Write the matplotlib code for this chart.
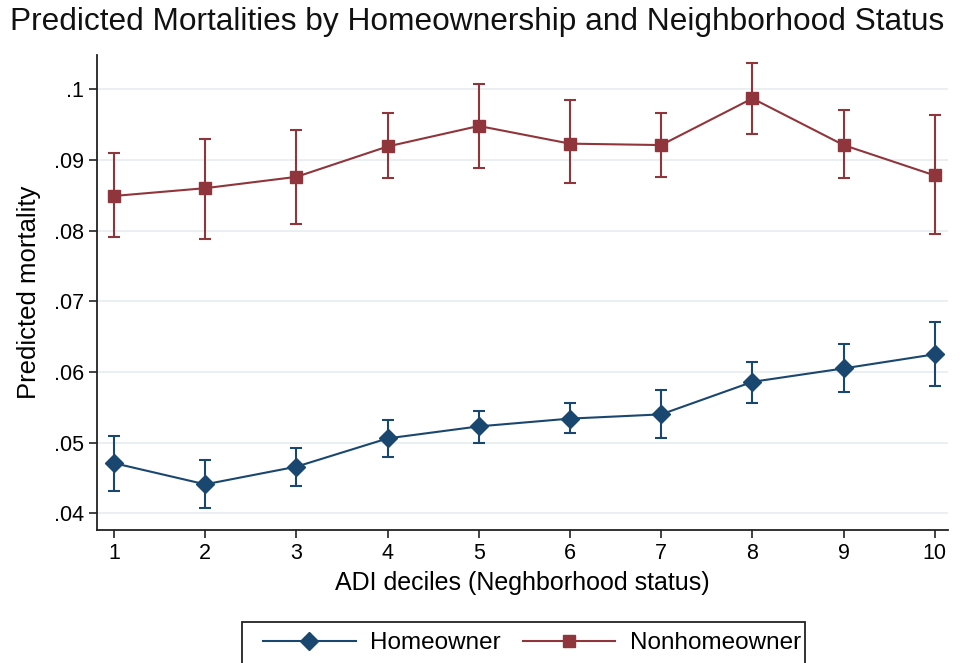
"""Predicted mortality by homeownership and ADI decile (Stata-style replica)."""
import matplotlib
matplotlib.use("Agg")
import matplotlib.pyplot as plt
from matplotlib.patches import Rectangle
from matplotlib.transforms import Bbox, TransformedBbox

plt.rcParams["font.family"] = ["Liberation Sans", "DejaVu Sans"]

# ── Data ───────────────────────────────────────────────────────────────
deciles = [1, 2, 3, 4, 5, 6, 7, 8, 9, 10]

home_mean = [0.0471, 0.0441, 0.0466, 0.0506, 0.0523, 0.0534, 0.0540, 0.0586, 0.0605, 0.0625]
home_lo = [0.0431, 0.0407, 0.0439, 0.0479, 0.0500, 0.0513, 0.0506, 0.0556, 0.0572, 0.0580]
home_hi = [0.0510, 0.0476, 0.0492, 0.0532, 0.0545, 0.0556, 0.0574, 0.0614, 0.0640, 0.0670]

nonhome_mean = [0.0849, 0.0860, 0.0876, 0.0919, 0.0948, 0.0923, 0.0921, 0.0987, 0.0921, 0.0878]
nonhome_lo = [0.0791, 0.0788, 0.0810, 0.0874, 0.0889, 0.0867, 0.0876, 0.0937, 0.0874, 0.0795]
nonhome_hi = [0.0910, 0.0929, 0.0942, 0.0966, 0.1008, 0.0985, 0.0966, 0.1037, 0.0971, 0.0963]

y_ticks = [0.04, 0.05, 0.06, 0.07, 0.08, 0.09, 0.10]
y_tick_labels = [".04", ".05", ".06", ".07", ".08", ".09", ".1"]

NAVY = "#1a476f"
MAROON = "#90353b"
GRID = "#e6eef0"


def _err(mean, lo, hi):
    return [[m - l for m, l in zip(mean, lo)], [h - m for m, h in zip(mean, hi)]]


W, H = 960, 663
fig = plt.figure(figsize=(W / 100, H / 100), dpi=100)
ax = fig.add_axes([0.101, 0.2006, 0.887, 0.716])

h_home = ax.errorbar(
    deciles, home_mean, yerr=_err(home_mean, home_lo, home_hi),
    color=NAVY, ecolor=NAVY, lw=1.5, elinewidth=1.5, capsize=4.3, capthick=1.5,
    marker="D", markersize=9, label="Homeowner", zorder=3,
)
h_nonhome = ax.errorbar(
    deciles, nonhome_mean, yerr=_err(nonhome_mean, nonhome_lo, nonhome_hi),
    color=MAROON, ecolor=MAROON, lw=1.5, elinewidth=1.5, capsize=4.3, capthick=1.5,
    marker="s", markersize=8.5, label="Nonhomeowner", zorder=3,
)

ax.set_xlim(0.813, 10.15)
ax.set_ylim(0.03764, 0.1048)
ax.set_xticks(deciles)
ax.set_yticks(y_ticks)
ax.set_yticklabels(y_tick_labels)
ax.grid(axis="y", color=GRID, lw=1.2)
ax.set_axisbelow(True)
for side in ("top", "right"):
    ax.spines[side].set_visible(False)
for side in ("left", "bottom"):
    ax.spines[side].set_linewidth(1.3)
    ax.spines[side].set_color("#222222")
ax.tick_params(labelsize=15.5, length=6, width=1.2, color="#222222")

ax.set_xlabel("ADI deciles (Neghborhood status)", fontsize=18, labelpad=5)
ax.set_ylabel("Predicted mortality", fontsize=18.5, labelpad=9)

fig.text(10 / W, 1 - 22 / H, "Predicted Mortalities by Homeownership and Neighborhood Status",
         fontsize=22.8, ha="left", va="center", color="#111111")

# legend box, running off the bottom edge like the source screenshot
box_l, box_r, box_t = 242 / W, 805 / W, 1 - 622 / H
fig.patches.append(Rectangle((box_l, -0.05), box_r - box_l, box_t + 0.05,
                             transform=fig.transFigure, fill=False, lw=1.3,
                             edgecolor="#222222"))
leg = fig.legend([h_home[0], h_nonhome[0]], ["Homeowner", "Nonhomeowner"],
                 loc="center left", bbox_to_anchor=(251 / W, 1 - 643 / H), ncol=2,
                 frameon=False, borderpad=0, fontsize=17.5, handlelength=3.8,
                 columnspacing=0.9, handletextpad=0.6)
clip = TransformedBbox(Bbox([[box_l, 0], [box_r, box_t]]), fig.transFigure)
for txt in leg.get_texts():
    txt.set_clip_box(clip)
    txt.set_clip_on(True)

fig.savefig("out.png", dpi=100, facecolor="white")
